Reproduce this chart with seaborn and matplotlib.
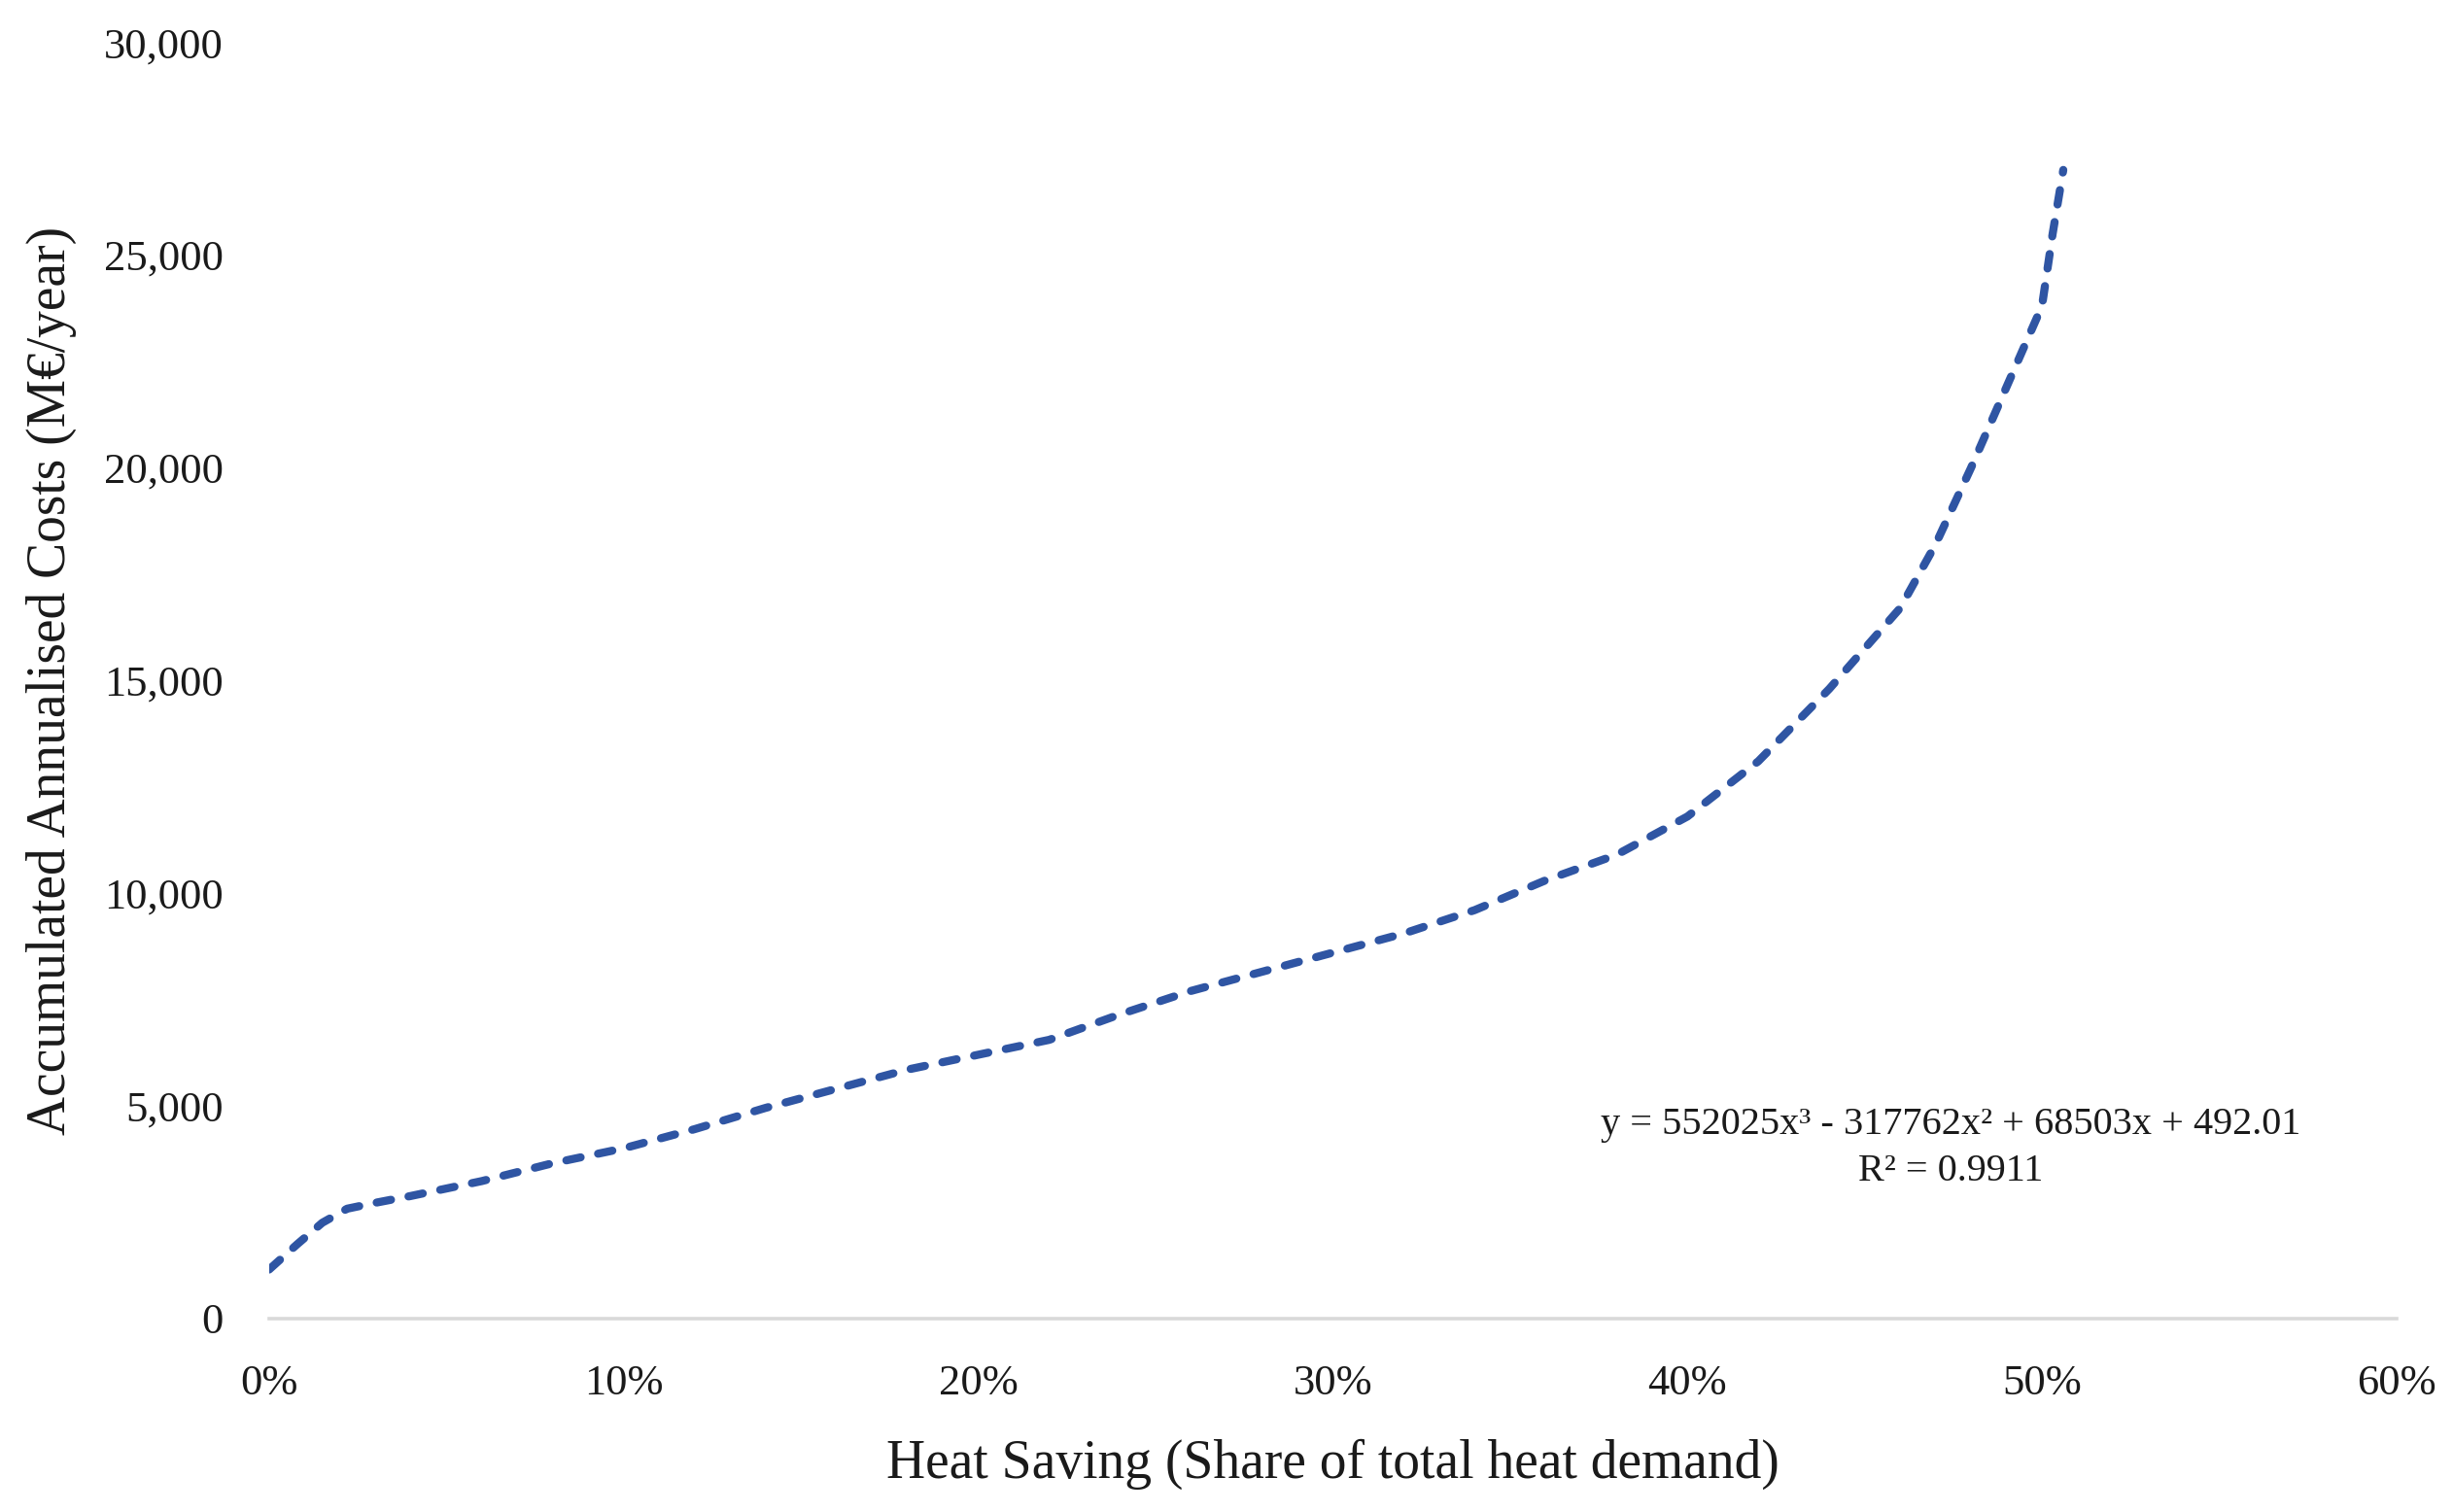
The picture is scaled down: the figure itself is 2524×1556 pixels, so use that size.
import matplotlib
matplotlib.use("Agg")
import matplotlib.pyplot as plt
from matplotlib.ticker import FuncFormatter
import seaborn as sns
import pandas as pd

# heat saving share (%) and accumulated annualised cost (M€/year)
saving_pct = [0, 0.8, 1.5, 2.2, 3.0, 4, 6, 8, 10, 12, 14, 16, 18, 20, 22, 24, 26,
              28, 30, 32, 34, 36, 38, 40, 42, 44, 46, 47, 48, 49, 50, 50.3, 50.6]
cost = [1150, 1750, 2250, 2580, 2720, 2880, 3230, 3650, 4000, 4450, 4950, 5400,
        5850, 6200, 6550, 7150, 7700, 8150, 8600, 9050, 9600, 10300, 10900, 11800,
        13100, 14800, 16700, 18200, 20000, 21900, 23800, 25500, 27000]

x_ticks = [0, 0.1, 0.2, 0.3, 0.4, 0.5, 0.6]
y_ticks = [0, 5000, 10000, 15000, 20000, 25000, 30000]
fit_label = "y = 552025x³ - 317762x² + 68503x + 492.01\nR² = 0.9911"

df = pd.DataFrame({"share": [p / 100 for p in saving_pct], "cost": cost})

sns.set_style("white")
plt.rcParams["font.family"] = ["Liberation Serif", "DejaVu Serif"]

fig = plt.figure(figsize=(25.24, 15.56), dpi=100)
ax = fig.add_axes([0.1097, 0.128, 0.8673, 0.844])

sns.lineplot(data=df, x="share", y="cost", ax=ax, color="#2F55A3", linewidth=6,
             dashes=False)
line = ax.lines[0]
line.set_dashes((1.8, 2.2))
line.set_dash_capstyle("round")
line.set_solid_capstyle("round")

ax.set_xlim(0, 0.6)
ax.set_ylim(0, 30000)
ax.set_xticks(x_ticks)
ax.set_yticks(y_ticks)
ax.xaxis.set_major_formatter(FuncFormatter(lambda v, _: f"{v * 100:.0f}%"))
ax.yaxis.set_major_formatter(FuncFormatter(lambda v, _: f"{v:,.0f}"))
ax.tick_params(axis="both", length=0, labelsize=32, colors="#1a1a1a")
ax.tick_params(axis="x", pad=34)
ax.tick_params(axis="y", pad=34)

for side in ["top", "right", "left"]:
    ax.spines[side].set_visible(False)
ax.spines["bottom"].set_color("#D9D9D9")
ax.spines["bottom"].set_linewidth(2.6)
ax.grid(False)

ax.set_xlabel("Heat Saving (Share of total heat demand)", fontsize=40, labelpad=26,
              color="#1a1a1a")
ax.set_ylabel("Accumulated Annualised Costs (M€/year)", fontsize=40, labelpad=20,
              color="#1a1a1a")

ax.text(0.4742, 4000, fit_label, ha="center", va="center", fontsize=29,
        linespacing=1.4, color="#1a1a1a")

plt.savefig("out.png", dpi=100)
plt.close()
